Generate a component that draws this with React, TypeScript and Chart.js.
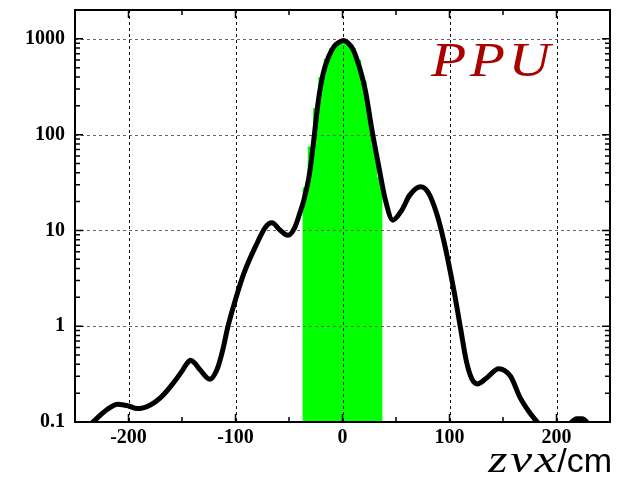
import { useEffect, useRef } from "react";
import { Chart, registerables } from "chart.js";

Chart.register(...registerables);

// ---- data ----
const curveX = [
  -240, -230, -220, -210, -200, -192, -180, -170, -160, -150, -146, -142, -138, -133, -124, -117, -112, -107, -100, -92,
  -80, -72, -66, -58, -51, -45, -40, -36, -31, -27, -22.5, -18, -13, -8, -4, 1, 5, 10, 16.6, 21.3, 27.5, 34, 40, 47, 55,
  63, 73, 80, 88, 95, 104, 110, 116, 121, 126, 135, 146, 157, 166, 175, 182, 190, 200, 210, 219, 224, 230, 240,
];
const curveY = [
  0.085, 0.108, 0.135, 0.153, 0.147, 0.138, 0.15, 0.18, 0.24, 0.34, 0.4, 0.44, 0.41, 0.35, 0.28, 0.36, 0.56, 1.0, 1.9,
  3.6, 7.3, 10.8, 12, 10, 8.9, 10.5, 15, 21, 38, 85, 230, 437, 650, 830, 910, 960, 910, 770, 473, 292, 112, 46, 21,
  12.8, 16, 23.5, 28.6, 25, 15, 7.5, 2.4, 1.0, 0.42, 0.28, 0.25, 0.29, 0.36, 0.3, 0.18, 0.125, 0.1, 0.08, 0.07, 0.09,
  0.108, 0.108, 0.095, 0.07,
];
const binCenters = [-35, -30, -25, -20, -15, -10, -5, 0, 5, 10, 15, 20, 25, 30, 35];
const binValues = [28, 75, 190, 400, 620, 800, 910, 950, 920, 800, 600, 360, 170, 75, 36];
const binWidth = 5;

const xTicks = [-200, -100, 0, 100, 200];
const yTicks = [0.1, 1, 10, 100, 1000];
const yTickLabels = ["0.1", "1", "10", "100", "1000"];
const xMinorTicks = [-250, -150, -50, 50, 150, 250];
const titleMath = "zvx";
const titleUnit = "/cm";
const badgeText = "PPU";

const decor = {
  id: "decor",
  afterDatasetDraw(chart: any, args: any) {
    if (args.index !== 1) return;
    const { ctx, chartArea: a, scales } = chart;
    const x = scales.x;
    const y = scales.y;
    ctx.save();
    ctx.lineWidth = 1;
    ctx.setLineDash([3, 3]);
    ctx.strokeStyle = "#111";
    for (const t of xTicks) {
      const px = Math.round(x.getPixelForValue(t)) + 0.5;
      ctx.beginPath();
      ctx.moveTo(px, a.top);
      ctx.lineTo(px, a.bottom);
      ctx.stroke();
    }
    ctx.strokeStyle = "#666";
    for (const t of yTicks) {
      const py = Math.round(y.getPixelForValue(t)) + 0.5;
      ctx.beginPath();
      ctx.moveTo(a.left, py);
      ctx.lineTo(a.right, py);
      ctx.stroke();
    }
    ctx.restore();
  },
  afterDraw(chart: any) {
    const { ctx, chartArea: a, scales } = chart;
    const x = scales.x;
    const y = scales.y;
    ctx.save();
    ctx.strokeStyle = "#000";
    ctx.lineWidth = 1.5;
    const tickX = (v: number, len: number) => {
      const px = x.getPixelForValue(v);
      ctx.beginPath();
      ctx.moveTo(px, a.bottom);
      ctx.lineTo(px, a.bottom - len);
      ctx.moveTo(px, a.top);
      ctx.lineTo(px, a.top + len);
      ctx.stroke();
    };
    for (const t of xTicks) tickX(t, 8);
    for (const t of xMinorTicks) tickX(t, 5);
    const tickY = (v: number, len: number) => {
      const py = y.getPixelForValue(v);
      ctx.beginPath();
      ctx.moveTo(a.left, py);
      ctx.lineTo(a.left + len, py);
      ctx.moveTo(a.right, py);
      ctx.lineTo(a.right - len, py);
      ctx.stroke();
    };
    for (const d of yTicks) {
      tickY(d, 8);
      for (let m = 2; m <= 9; m++) {
        const v = m * d;
        if (v <= y.max) tickY(v, 5);
      }
    }
    ctx.lineWidth = 2;
    ctx.strokeRect(a.left, a.top, a.right - a.left, a.bottom - a.top);

    ctx.textBaseline = "alphabetic";
    ctx.textAlign = "left";

    // badge
    ctx.save();
    ctx.fillStyle = "#aa0000";
    ctx.font = 'italic 48px "Liberation Serif"';
    (ctx as any).letterSpacing = "3px";
    ctx.translate(431, 76);
    ctx.scale(1.2, 1);
    ctx.fillText(badgeText, 0, 0);
    ctx.restore();

    // axis title
    ctx.fillStyle = "#000";
    ctx.font = '34px "Liberation Sans"';
    (ctx as any).letterSpacing = "0px";
    const unitW = ctx.measureText(titleUnit).width;
    ctx.fillText(titleUnit, 612 - unitW, 472);
    ctx.save();
    ctx.font = 'italic 38px "Liberation Serif"';
    (ctx as any).letterSpacing = "2px";
    const sx = 1.3;
    const mathW = ctx.measureText(titleMath).width * sx;
    ctx.translate(612 - unitW - mathW + 2, 472);
    ctx.scale(sx, 1);
    ctx.fillText(titleMath, 0, 0);
    ctx.restore();
    ctx.restore();
  },
};

const zeroPad = (s: any) => {
  s.paddingTop = 0;
  s.paddingBottom = 0;
  s.paddingLeft = 0;
  s.paddingRight = 0;
};

export default function App() {
  const ref = useRef<HTMLCanvasElement | null>(null);
  useEffect(() => {
    if (!ref.current) return;
    const histPts = binCenters.map((c, i) => ({ x: c - binWidth / 2, y: binValues[i] }));
    histPts.push({
      x: binCenters[binCenters.length - 1] + binWidth / 2,
      y: binValues[binValues.length - 1],
    });
    const chart = new Chart(ref.current, {
      type: "line",
      data: {
        datasets: [
          {
            data: curveX.map((v, i) => ({ x: v, y: curveY[i] })),
            borderColor: "#000",
            borderWidth: 5,
            pointRadius: 0,
            cubicInterpolationMode: "monotone",
            borderCapStyle: "round",
            borderJoinStyle: "round",
            fill: false,
            clip: 0,
          } as any,
          {
            data: histPts,
            stepped: "before",
            borderWidth: 0,
            borderColor: "rgba(0,0,0,0)",
            backgroundColor: "#00ff00",
            pointRadius: 0,
            fill: "start",
            clip: 0,
          } as any,
        ],
      },
      options: {
        animation: false,
        responsive: true,
        maintainAspectRatio: false,
        layout: { padding: { top: 10, right: 19, left: 0, bottom: 0 } },
        plugins: { legend: { display: false }, tooltip: { enabled: false } },
        scales: {
          x: {
            type: "linear",
            min: -250,
            max: 250,
            offset: false,
            grid: { display: false, drawTicks: false },
            border: { display: false },
            afterBuildTicks: (s: any) => {
              s.ticks = xTicks.map((v) => ({ value: v }));
            },
            afterFit: (s: any) => {
              s.height = 55;
              zeroPad(s);
            },
            ticks: {
              color: "#000",
              padding: 4,
              maxRotation: 0,
              autoSkip: false,
              font: { family: "Liberation Serif", weight: "bold", size: 20 },
              callback: (v: any) => String(v),
            },
          },
          y: {
            type: "logarithmic",
            min: 0.1,
            max: 2000,
            grid: { display: false, drawTicks: false },
            border: { display: false },
            afterBuildTicks: (s: any) => {
              s.ticks = yTicks.map((v) => ({ value: v }));
            },
            afterFit: (s: any) => {
              s.width = 75;
              zeroPad(s);
            },
            ticks: {
              color: "#000",
              padding: 10,
              autoSkip: false,
              font: { family: "Liberation Serif", weight: "bold", size: 20 },
              callback: (v: any) => {
                const i = yTicks.indexOf(Number(v));
                return i >= 0 ? yTickLabels[i] : "";
              },
            },
          },
        },
      } as any,
      plugins: [decor],
    });
    return () => chart.destroy();
  }, []);
  return (
    <div style={{ position: "absolute", left: 0, top: 0, width: 629, height: 477, background: "#fff" }}>
      <canvas ref={ref} />
    </div>
  );
}
